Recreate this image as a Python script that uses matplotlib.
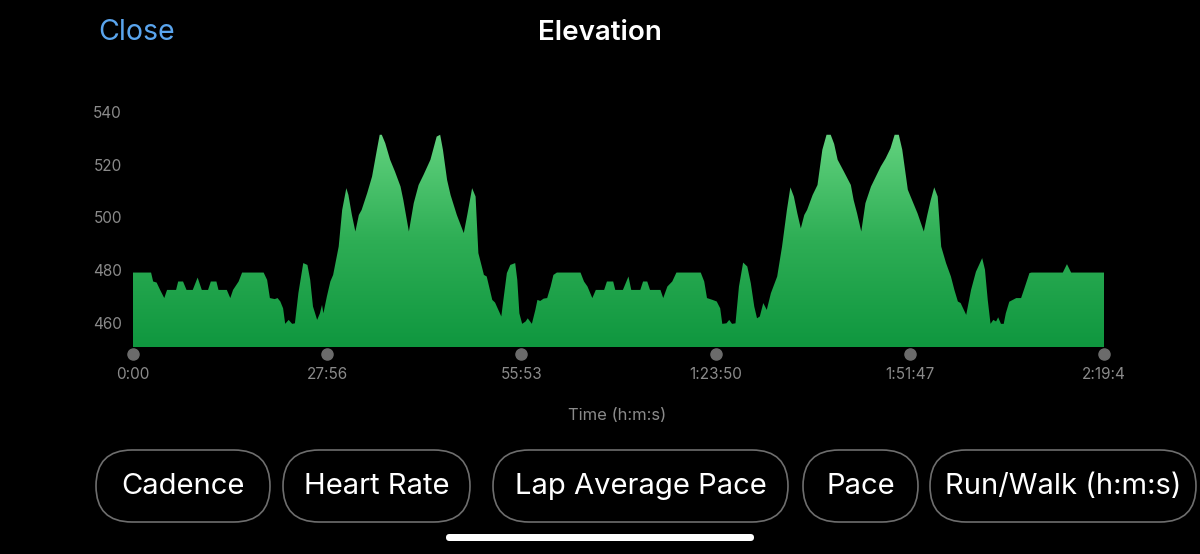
import numpy as np
import matplotlib
matplotlib.use("Agg")
import matplotlib.pyplot as plt
import matplotlib.transforms as mtransforms
from matplotlib.patches import FancyBboxPatch
from matplotlib.colors import LinearSegmentedColormap

plt.rcParams['font.family'] = ['Inter', 'DejaVu Sans']

# elevation profile (time in minutes, elevation in m)
time_min = [0.0, 2.6, 2.9, 3.4, 3.9, 4.5, 4.9, 6.2, 6.5, 7.2, 7.7, 8.6, 9.3, 9.9,
            10.8, 11.2, 12.0, 12.3, 13.5, 14.0, 14.4, 15.2, 15.7, 18.8, 19.3, 19.7,
            20.4, 20.8, 21.2, 21.6, 21.9, 22.4, 22.9, 23.3, 23.8, 24.5, 25.1, 25.5,
            25.9, 26.5, 26.9, 27.2, 27.4, 27.9, 28.4, 28.8, 29.6, 30.1, 30.7, 31.0,
            31.5, 32.0, 32.5, 32.9, 33.7, 34.4, 35.1, 35.5, 35.8, 36.3, 37.0, 37.7,
            38.5, 38.9, 39.7, 40.4, 41.1, 41.8, 42.8, 43.7, 44.2, 44.6, 45.2, 45.7,
            46.6, 47.6, 48.1, 48.8, 49.3, 49.7, 50.5, 50.9, 51.7, 52.1, 53.0,
            53.3, 53.8, 54.3, 55.0, 55.3, 55.6, 56.0, 56.5, 56.8, 57.4, 57.9, 58.2,
            58.6, 59.1, 59.6, 60.1, 60.5, 61.0, 64.4, 64.9, 65.4, 66.1, 66.6, 67.8,
            68.2, 69.1, 69.4, 70.5, 71.0, 71.3, 71.7, 73.0, 73.4, 74.0, 74.4, 75.9,
            76.3, 76.9, 77.6, 78.2, 81.7, 82.2, 82.6, 83.4, 84.0, 84.5, 84.8, 85.4,
            85.8, 86.2, 86.7, 87.2, 87.8, 88.4, 88.9, 89.4, 89.8, 90.2, 90.7, 91.2,
            91.8, 92.7, 93.4, 94.1, 94.6, 95.1, 95.6, 96.1, 96.6, 97.0, 97.8, 98.5,
            99.2, 99.8, 100.4, 100.9,
            101.4, 102.3, 103.3, 103.7, 104.2, 104.8, 105.4, 106.2, 106.9, 107.6,
            108.3, 109.0, 109.6, 110.2, 110.7, 111.5, 111.9, 112.9, 113.8, 114.3,
            114.8, 115.3, 115.8, 116.3, 117.0, 117.7, 118.2, 118.7, 119.1, 119.9,
            120.6, 121.3, 122.2, 122.6, 123.0, 123.4, 123.8, 124.2, 124.5, 124.9,
            125.3, 125.6, 126.1, 126.6, 127.1, 127.8, 128.2, 129.0, 129.3, 133.8,
            134.4, 135.0, 139.73]
elev_m = [479.0, 479.0, 475.6, 475.2, 472.4, 469.3, 472.4, 472.4, 475.6, 475.6,
          472.4, 472.4, 477.1, 472.4, 472.4, 475.6, 475.6, 472.4, 472.4, 469.3,
          472.4, 475.6, 479.0, 479.0, 476.2, 469.3, 468.9, 469.3, 468.0, 465.4,
          459.5, 461.0, 459.5, 459.7, 471.2, 482.6, 481.9, 476.2, 466.1, 461.0,
          463.5, 466.7, 463.5, 469.9, 475.6, 478.1, 488.9, 502.8, 511.1, 508.5,
          500.9, 494.6, 500.9, 502.8, 509.2, 515.5, 525.7, 531.4, 531.4, 528.2,
          521.9, 517.4, 511.7, 506.6, 494.6, 505.4, 512.3, 516.1, 521.9, 530.7,
          531.4, 525.7, 514.2, 508.5, 500.9, 494.0, 500.9, 511.1, 507.9, 486.4,
          478.1, 477.5, 468.6, 467.6, 462.3,
          468.6, 478.8, 481.9, 482.6, 476.2, 463.5, 459.5, 460.4, 461.6, 459.5,
          464.8, 468.6, 468.2, 469.1, 469.3, 473.7, 478.1, 479.0, 479.0, 475.6,
          473.7, 469.3, 472.4, 472.4, 475.6, 475.6, 472.4, 472.4, 475.6, 477.5,
          472.4, 472.4, 475.6, 475.6, 472.4, 472.4, 469.3, 473.7, 475.6, 479.0,
          479.0, 475.6, 469.3, 468.6, 468.0, 465.4, 459.5, 459.7, 461.0, 459.5,
          459.7, 473.7, 482.8, 481.3, 475.0, 466.1, 461.6, 462.3, 467.4, 464.8,
          471.2, 477.5, 488.9, 502.8, 511.4, 507.9, 501.5, 495.8, 500.9, 502.8,
          508.5, 512.3, 525.7, 531.4, 531.4, 527.9,
          521.9, 517.4, 512.3, 506.6, 501.5, 494.6, 505.4, 511.7, 515.5, 519.3,
          522.4, 526.2, 531.4, 531.4, 525.7, 510.5, 507.9, 501.5, 494.6, 500.9,
          506.6, 511.4, 507.9, 488.9, 482.6, 477.5, 472.4, 468.0, 467.4, 462.9,
          472.4, 479.3, 484.5, 480.1, 468.6, 459.5, 461.0, 460.4, 462.0, 459.5,
          459.5, 463.5, 467.9, 468.6, 469.3, 469.3, 472.4, 478.8, 479.0, 479.0,
          482.2, 479.0, 479.0]

tick_min = [0, 27.93, 55.88, 83.83, 111.78, 139.73]
tick_labels = ["0:00", "27:56", "55:53", "1:23:50", "1:51:47", "2:19:4"]
y_ticks = [460, 480, 500, 520, 540]
buttons = ["Cadence", "Heart Rate", "Lap Average Pace", "Pace", "Run/Walk (h:m:s)"]
button_x = [(96, 270), (283, 470), (493, 788), (803, 918), (930, 1196)]

total = tick_min[-1]
y0 = 450.5
grey = '#8a8a8a'

fig = plt.figure(figsize=(12, 5.54), dpi=100, facecolor='black')

# overlay for the app chrome, in pixel coords
ov = fig.add_axes([0, 0, 1, 1])
ov.set_xlim(0, 1200)
ov.set_ylim(554, 0)
ov.axis('off')
ov.patch.set_alpha(0)

ov.text(98, 32, "Close", color='#5aa5ee', fontsize=20.5, ha='left', va='center')
ov.text(600, 33, "Elevation", color='white', fontsize=20, fontweight='semibold',
        ha='center', va='center')
ov.text(617, 416, "Time (h:m:s)", color=grey, fontsize=12, ha='center', va='center')

for label, (x0, x1) in zip(buttons, button_x):
    box = FancyBboxPatch((x0, 450), x1 - x0, 72,
                         boxstyle='round,pad=0,rounding_size=36',
                         facecolor='black', edgecolor='#6e6e6e', linewidth=1.2)
    ov.add_patch(box)
    ov.text((x0 + x1) / 2, 487, label, color='white', fontsize=21,
            ha='center', va='center')

bar = FancyBboxPatch((446, 534), 308, 7, boxstyle='round,pad=0,rounding_size=3.5',
                     facecolor='white', edgecolor='none')
ov.add_patch(bar)

# elevation chart
ax = fig.add_axes([133 / 1200, 1 - 347.5 / 554, 971 / 1200, 248.5 / 554])
ax.set_facecolor('black')
ax.set_xlim(0, total)
ax.set_ylim(y0, 545)

poly = ax.fill_between(time_min, elev_m, y0, color='none', linewidth=0)
cmap = LinearSegmentedColormap.from_list('elev', ['#0f973f', '#2eae55', '#63d37f'])
grad = np.linspace(0, 1, 256).reshape(-1, 1)
im = ax.imshow(grad, extent=[0, total, y0, 532], origin='lower', aspect='auto',
               cmap=cmap, interpolation='bilinear')
im.set_clip_path(poly.get_paths()[0], transform=ax.transData)

for s in ax.spines.values():
    s.set_visible(False)

ax.set_yticks(y_ticks)
ax.set_yticklabels([str(v) for v in y_ticks])
ax.set_xticks(tick_min)
ax.set_xticklabels(tick_labels)
ax.tick_params(axis='y', length=0, pad=8, labelcolor=grey, labelsize=11)
ax.tick_params(axis='x', length=0, pad=14, labelcolor=grey, labelsize=11)

trans = mtransforms.blended_transform_factory(ax.transData, ax.transAxes)
ax.scatter(tick_min, [-0.027] * len(tick_min), s=64, color='#6b6b6b',
           transform=trans, clip_on=False, zorder=5)

fig.savefig("out.png", dpi=100, facecolor='black')
